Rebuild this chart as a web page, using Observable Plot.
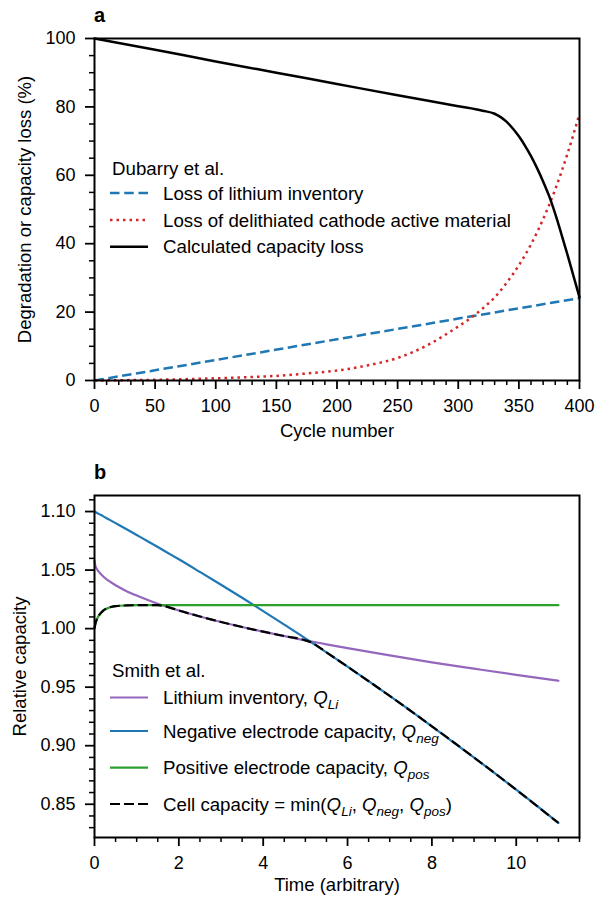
<!DOCTYPE html>
<html><head><meta charset="utf-8">
<script src="https://cdn.jsdelivr.net/npm/d3@7"></script>
<script src="https://cdn.jsdelivr.net/npm/@observablehq/plot@0.6"></script>
<style>body{margin:0;background:#fff;} svg{display:block;}</style>
</head><body><div id="chart"></div>
<script>
// ---------- Panel a data (Dubarry et al.) ----------
const cycles = [0,50,100,150,200,250,300,320,330,335,340,345,350,355,360,365,370,375,380,385,390,395,400];
const capacityLoss = [100,96.7,93.3,90.0,86.7,83.4,80.2,78.9,78.0,77.0,75.6,73.7,71.4,68.7,65.6,62.1,58.2,53.9,48.7,42.9,36.9,30.6,24.3];
const cyclesLLI = [0,100,200,300,400];
const lossLLI = [0,6.0,12.05,18.1,24.1];
const cyclesLAM = [0,25,50,75,100,125,150,175,200,225,250,275,300,310,320,330,340,350,360,370,380,390,400];
const lossLAM = [0,0.1,0.2,0.4,0.65,0.95,1.35,2.05,2.9,4.4,6.6,10.4,15.8,18.2,21.0,24.3,28.6,33.7,39.8,47.2,55.9,66.2,78.0];
const xTicksA = [0,50,100,150,200,250,300,350,400];
const yTicksA = [0,20,40,60,80,100];

// ---------- Panel b data (Smith et al.) ----------
const time = [0,0.02,0.05,0.1,0.2,0.35,0.5,0.75,1,1.25,1.5,1.68,2,2.5,3,3.5,4,4.5,5,5.15,5.5,6,7,8,9,10,11];
const qLi  = [1.058,1.0538,1.0514,1.0487,1.0448,1.0405,1.0370,1.0322,1.0282,1.0246,1.0213,1.0191,1.0155,1.0104,1.0057,1.0014,0.9974,0.9936,0.9900,0.9890,0.9866,0.9833,0.9771,0.9712,0.9658,0.9605,0.9555];
const qNeg = [1.1,1.0996,1.0990,1.0980,1.0961,1.0931,1.0901,1.0851,1.0800,1.0749,1.0697,1.0659,1.0592,1.0484,1.0375,1.0264,1.0150,1.0034,0.9917,0.9881,0.9797,0.9675,0.9425,0.9166,0.8899,0.8624,0.8340];
const qPos = [1.000,1.004,1.0075,1.011,1.0152,1.018,1.0192,1.0198,1.02,1.02,1.02,1.02,1.02,1.02,1.02,1.02,1.02,1.02,1.02,1.02,1.02,1.02,1.02,1.02,1.02,1.02,1.02];
const qCell = [1.000,1.004,1.0075,1.011,1.0152,1.018,1.0192,1.0198,1.02,1.02,1.02,1.0191,1.0155,1.0104,1.0057,1.0014,0.9974,0.9936,0.9900,0.9881,0.9797,0.9675,0.9425,0.9166,0.8899,0.8624,0.8340];
const xTicksB = [0,2,4,6,8,10];
const yTicksB = [0.85,0.90,0.95,1.00,1.05,1.10];

const FONT = "'Liberation Sans', Arial, Helvetica, sans-serif";
const C = {blue:"#1f77b4", red:"#d62728", purple:"#9467bd", green:"#2ca02c", black:"#000"};

const pts = (xs, ys) => xs.map((x,i)=>({x, y: ys[i]}));

// minor tick positions
const xMinorA = d3.range(0,401,10).filter(v=>v%50!==0);
const yMinorA = d3.range(0,101,5).filter(v=>v%20!==0);
const xMinorB = d3.range(0,24).map(v=>v/2).filter(v=>v%2!==0);
const yMinorB = d3.range(83,112).filter(v=>v%5!==0).map(v=>v/100);

const plotA = Plot.plot({
  width: 595, height: 450,
  marginLeft: 94, marginRight: 16, marginTop: 38, marginBottom: 70,
  style: {fontFamily: FONT, fontSize: "18px", color: "#000", background: "#fff"},
  x: {domain: [0,400]},
  y: {domain: [0,100]},
  marks: [
    Plot.axisX(xTicksA, {tickSize: 9, tickPadding: 10, strokeWidth: 1.8, label: null, tickFormat: d=>String(d)}),
    Plot.axisX(xMinorA, {tickSize: 5, strokeWidth: 1.5, fill: "none", label: null, tickFormat: ()=>""}),
    Plot.axisY(yTicksA, {tickSize: 9, tickPadding: 10, strokeWidth: 1.8, label: null, tickFormat: d=>String(d)}),
    Plot.axisY(yMinorA, {tickSize: 5, strokeWidth: 1.5, fill: "none", label: null, tickFormat: ()=>""}),
    Plot.line(pts(cyclesLLI, lossLLI), {x:"x", y:"y", stroke: C.blue, strokeWidth: 2.5, strokeDasharray: "9.5,4.5", strokeLinecap: "butt"}),
    Plot.line(pts(cyclesLAM, lossLAM), {x:"x", y:"y", stroke: C.red, strokeWidth: 2.5, strokeDasharray: "2.5,4", strokeLinecap: "butt", curve: "monotone-x"}),
    Plot.line(pts(cycles, capacityLoss), {x:"x", y:"y", stroke: C.black, strokeWidth: 2.5, curve: "monotone-x"}),
    Plot.frame({stroke: "#000", strokeWidth: 2}),
    Plot.text(["Degradation or capacity loss (%)"], {frameAnchor: "left", dx: -64, rotate: -90, lineAnchor: "bottom", textAnchor: "middle", fontSize: 18.5}),
    Plot.text(["Cycle number"], {frameAnchor: "bottom", dy: 56, lineAnchor: "bottom", fontSize: 18.5})
  ]
});

const plotB = Plot.plot({
  width: 595, height: 454,
  marginLeft: 94, marginRight: 16, marginTop: 45, marginBottom: 67,
  style: {fontFamily: FONT, fontSize: "18px", color: "#000", background: "#fff"},
  x: {domain: [0,11.5]},
  y: {domain: [0.8216,1.1137]},
  marks: [
    Plot.axisX(xTicksB, {tickSize: 9, tickPadding: 10, strokeWidth: 1.8, label: null, tickFormat: d=>String(d)}),
    Plot.axisX(xMinorB, {tickSize: 5, strokeWidth: 1.5, fill: "none", label: null, tickFormat: ()=>""}),
    Plot.axisY(yTicksB, {tickSize: 9, tickPadding: 10, strokeWidth: 1.8, label: null, tickFormat: d3.format(".2f")}),
    Plot.axisY(yMinorB, {tickSize: 5, strokeWidth: 1.5, fill: "none", label: null, tickFormat: ()=>""}),
    Plot.line(pts(time, qLi), {x:"x", y:"y", stroke: C.purple, strokeWidth: 2.2, curve: "monotone-x"}),
    Plot.line(pts(time, qNeg), {x:"x", y:"y", stroke: C.blue, strokeWidth: 2.2, curve: "monotone-x"}),
    Plot.line(pts(time, qPos), {x:"x", y:"y", stroke: C.green, strokeWidth: 2.2, curve: "monotone-x"}),
    Plot.line(pts(time, qCell), {x:"x", y:"y", stroke: C.black, strokeWidth: 2.2, strokeDasharray: "10,4", strokeLinecap: "butt", curve: "monotone-x"}),
    Plot.frame({stroke: "#000", strokeWidth: 2}),
    Plot.text(["Relative capacity"], {frameAnchor: "left", dx: -69, rotate: -90, lineAnchor: "bottom", textAnchor: "middle", fontSize: 18.5}),
    Plot.text(["Time (arbitrary)"], {frameAnchor: "bottom", dy: 53, lineAnchor: "bottom", fontSize: 18.5})
  ]
});

// ---------- panel letters and legends ----------
function addPanelLetter(svg, letter, x, y) {
  d3.select(svg).append("text").attr("x", x).attr("y", y)
    .attr("font-family", FONT).attr("font-size", 20).attr("font-weight", "bold")
    .attr("text-anchor", "start").attr("fill", "#000").text(letter);
}

function addLegend(svg, cfg) {
  const g = d3.select(svg).append("g").attr("font-family", FONT).attr("font-size", 18.7)
    .attr("fill", "#000").attr("text-anchor", "start");
  g.append("text").attr("x", cfg.titleX).attr("y", cfg.titleY).attr("text-anchor", "start").text(cfg.title);
  cfg.rows.forEach(r => {
    g.append("line").attr("x1", cfg.x1).attr("x2", cfg.x2).attr("y1", r.y).attr("y2", r.y)
      .attr("stroke", r.stroke).attr("stroke-width", r.width)
      .attr("stroke-dasharray", r.dash || null).attr("stroke-linecap", "butt");
    const t = g.append("text").attr("x", cfg.textX).attr("y", r.y + 6.5).attr("text-anchor", "start");
    let shift = 0;
    r.parts.forEach(p => {
      const s = t.append("tspan").text(p.t);
      if (p.i) s.attr("font-style", "italic");
      const target = p.sub ? 5 : 0;
      if (target !== shift) { s.attr("dy", target - shift); shift = target; }
      if (p.sub) s.attr("font-size", 13.5);
    });
  });
}

addPanelLetter(plotA, "a", 94, 22);
addPanelLetter(plotB, "b", 94, 29);

addLegend(plotA, {
  title: "Dubarry et al.", titleX: 112, titleY: 175, x1: 110, x2: 148, textX: 163,
  rows: [
    {y: 193, stroke: C.blue, width: 2.5, dash: "9.5,4.75", parts: [{t: "Loss of lithium inventory"}]},
    {y: 220, stroke: C.red, width: 2.5, dash: "2.5,4", parts: [{t: "Loss of delithiated cathode active material"}]},
    {y: 246.7, stroke: C.black, width: 2.5, parts: [{t: "Calculated capacity loss"}]}
  ]
});

const Q = {t: "Q", i: true};
const sub = s => ({t: s, i: true, sub: true});
addLegend(plotB, {
  title: "Smith et al.", titleX: 112, titleY: 227, x1: 110, x2: 148, textX: 163,
  rows: [
    {y: 247.5, stroke: C.purple, width: 2.2, parts: [{t: "Lithium inventory, "}, Q, sub("Li")]},
    {y: 281, stroke: C.blue, width: 2.2, parts: [{t: "Negative electrode capacity, "}, Q, sub("neg")]},
    {y: 317.7, stroke: C.green, width: 2.2, parts: [{t: "Positive electrode capacity, "}, Q, sub("pos")]},
    {y: 354, stroke: C.black, width: 2.2, dash: "10,4", parts: [{t: "Cell capacity = min("}, Q, sub("Li"), {t: ", "}, Q, sub("neg"), {t: ", "}, Q, sub("pos"), {t: ")"}]}
  ]
});

document.getElementById("chart").append(plotA, plotB);
</script>
</body></html>
